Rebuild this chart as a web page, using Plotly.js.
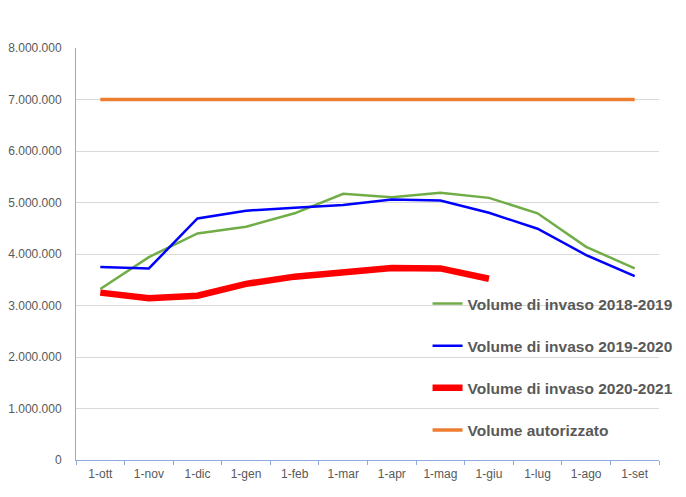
<!DOCTYPE html>
<html>
<head>
<meta charset="utf-8">
<script src="https://cdn.plot.ly/plotly-3.0.1.min.js"></script>
<style>html,body{margin:0;padding:0;background:#fff;}#chart{width:686px;height:497px;}</style>
</head>
<body>
<div id="chart"></div>
<script>
var categories = ["1-ott","1-nov","1-dic","1-gen","1-feb","1-mar","1-apr","1-mag","1-giu","1-lug","1-ago","1-set"];
var vol2018_2019 = [3320000, 3940000, 4400000, 4530000, 4790000, 5170000, 5100000, 5190000, 5090000, 4790000, 4140000, 3720000];
var vol2019_2020 = [3750000, 3720000, 4690000, 4840000, 4900000, 4950000, 5060000, 5040000, 4800000, 4490000, 3980000, 3570000];
var vol2020_2021 = [3250000, 3140000, 3190000, 3420000, 3560000, 3660000, 3730000, 3720000, 3520000];
var volAutorizzato = [7000000, 7000000, 7000000, 7000000, 7000000, 7000000, 7000000, 7000000, 7000000, 7000000, 7000000, 7000000];
var seriesNames = ["Volume di invaso 2018-2019", "Volume di invaso 2019-2020", "Volume di invaso 2020-2021", "Volume autorizzato"];
var yTicks = [0, 1000000, 2000000, 3000000, 4000000, 5000000, 6000000, 7000000, 8000000];

var traces = [
  {x: categories, y: volAutorizzato, name: seriesNames[3], type: "scatter", mode: "lines",
   line: {color: "#ED7D31", width: 3.5}, legendgroup: "d", legendrank: 4},
  {x: categories, y: vol2018_2019, name: seriesNames[0], type: "scatter", mode: "lines",
   line: {color: "#70AD47", width: 2.5}, legendgroup: "a", legendrank: 1},
  {x: categories, y: vol2019_2020, name: seriesNames[1], type: "scatter", mode: "lines",
   line: {color: "#0000FF", width: 2.5}, legendgroup: "b", legendrank: 2},
  {x: categories.slice(0, vol2020_2021.length), y: vol2020_2021, name: seriesNames[2], type: "scatter", mode: "lines",
   line: {color: "#FF0000", width: 6.5}, legendgroup: "c", legendrank: 3}
];

var layout = {
  width: 686, height: 497,
  margin: {l: 76, r: 27, t: 48, b: 37, autoexpand: false},
  paper_bgcolor: "#ffffff", plot_bgcolor: "#ffffff",
  separators: ",.",
  font: {family: "Liberation Sans, Arial, sans-serif", color: "#595959", size: 12},
  showlegend: true,
  legend: {
    x: 0.603, xanchor: "left", y: 0.42, yanchor: "top",
    bgcolor: "rgba(0,0,0,0)", borderwidth: 0,
    traceorder: "grouped", tracegroupgap: 19,
    font: {family: "Liberation Sans, Arial, sans-serif", size: 15.5, color: "#595959", weight: "bold"}
  },
  xaxis: {
    type: "category", range: [-0.5, 11.5], fixedrange: true,
    showgrid: false, showline: true, linecolor: "#8FAADC", linewidth: 1,
    ticks: "outside", tickson: "boundaries", ticklen: 4, tickcolor: "#8FAADC", tickwidth: 1,
    ticklabelstandoff: 3,
    tickfont: {size: 12, color: "#595959"}
  },
  yaxis: {
    range: [0, 8000000], fixedrange: true,
    tickvals: yTicks, tickformat: ",.0f",
    showgrid: true, gridcolor: "#D9D9D9", gridwidth: 1,
    zeroline: false, showline: true, linecolor: "#8FAADC", linewidth: 1,
    ticks: "", ticklabelstandoff: 11,
    tickfont: {size: 12, color: "#595959"}
  }
};

Plotly.newPlot("chart", traces, layout, {displayModeBar: false, staticPlot: true});
</script>
</body>
</html>
